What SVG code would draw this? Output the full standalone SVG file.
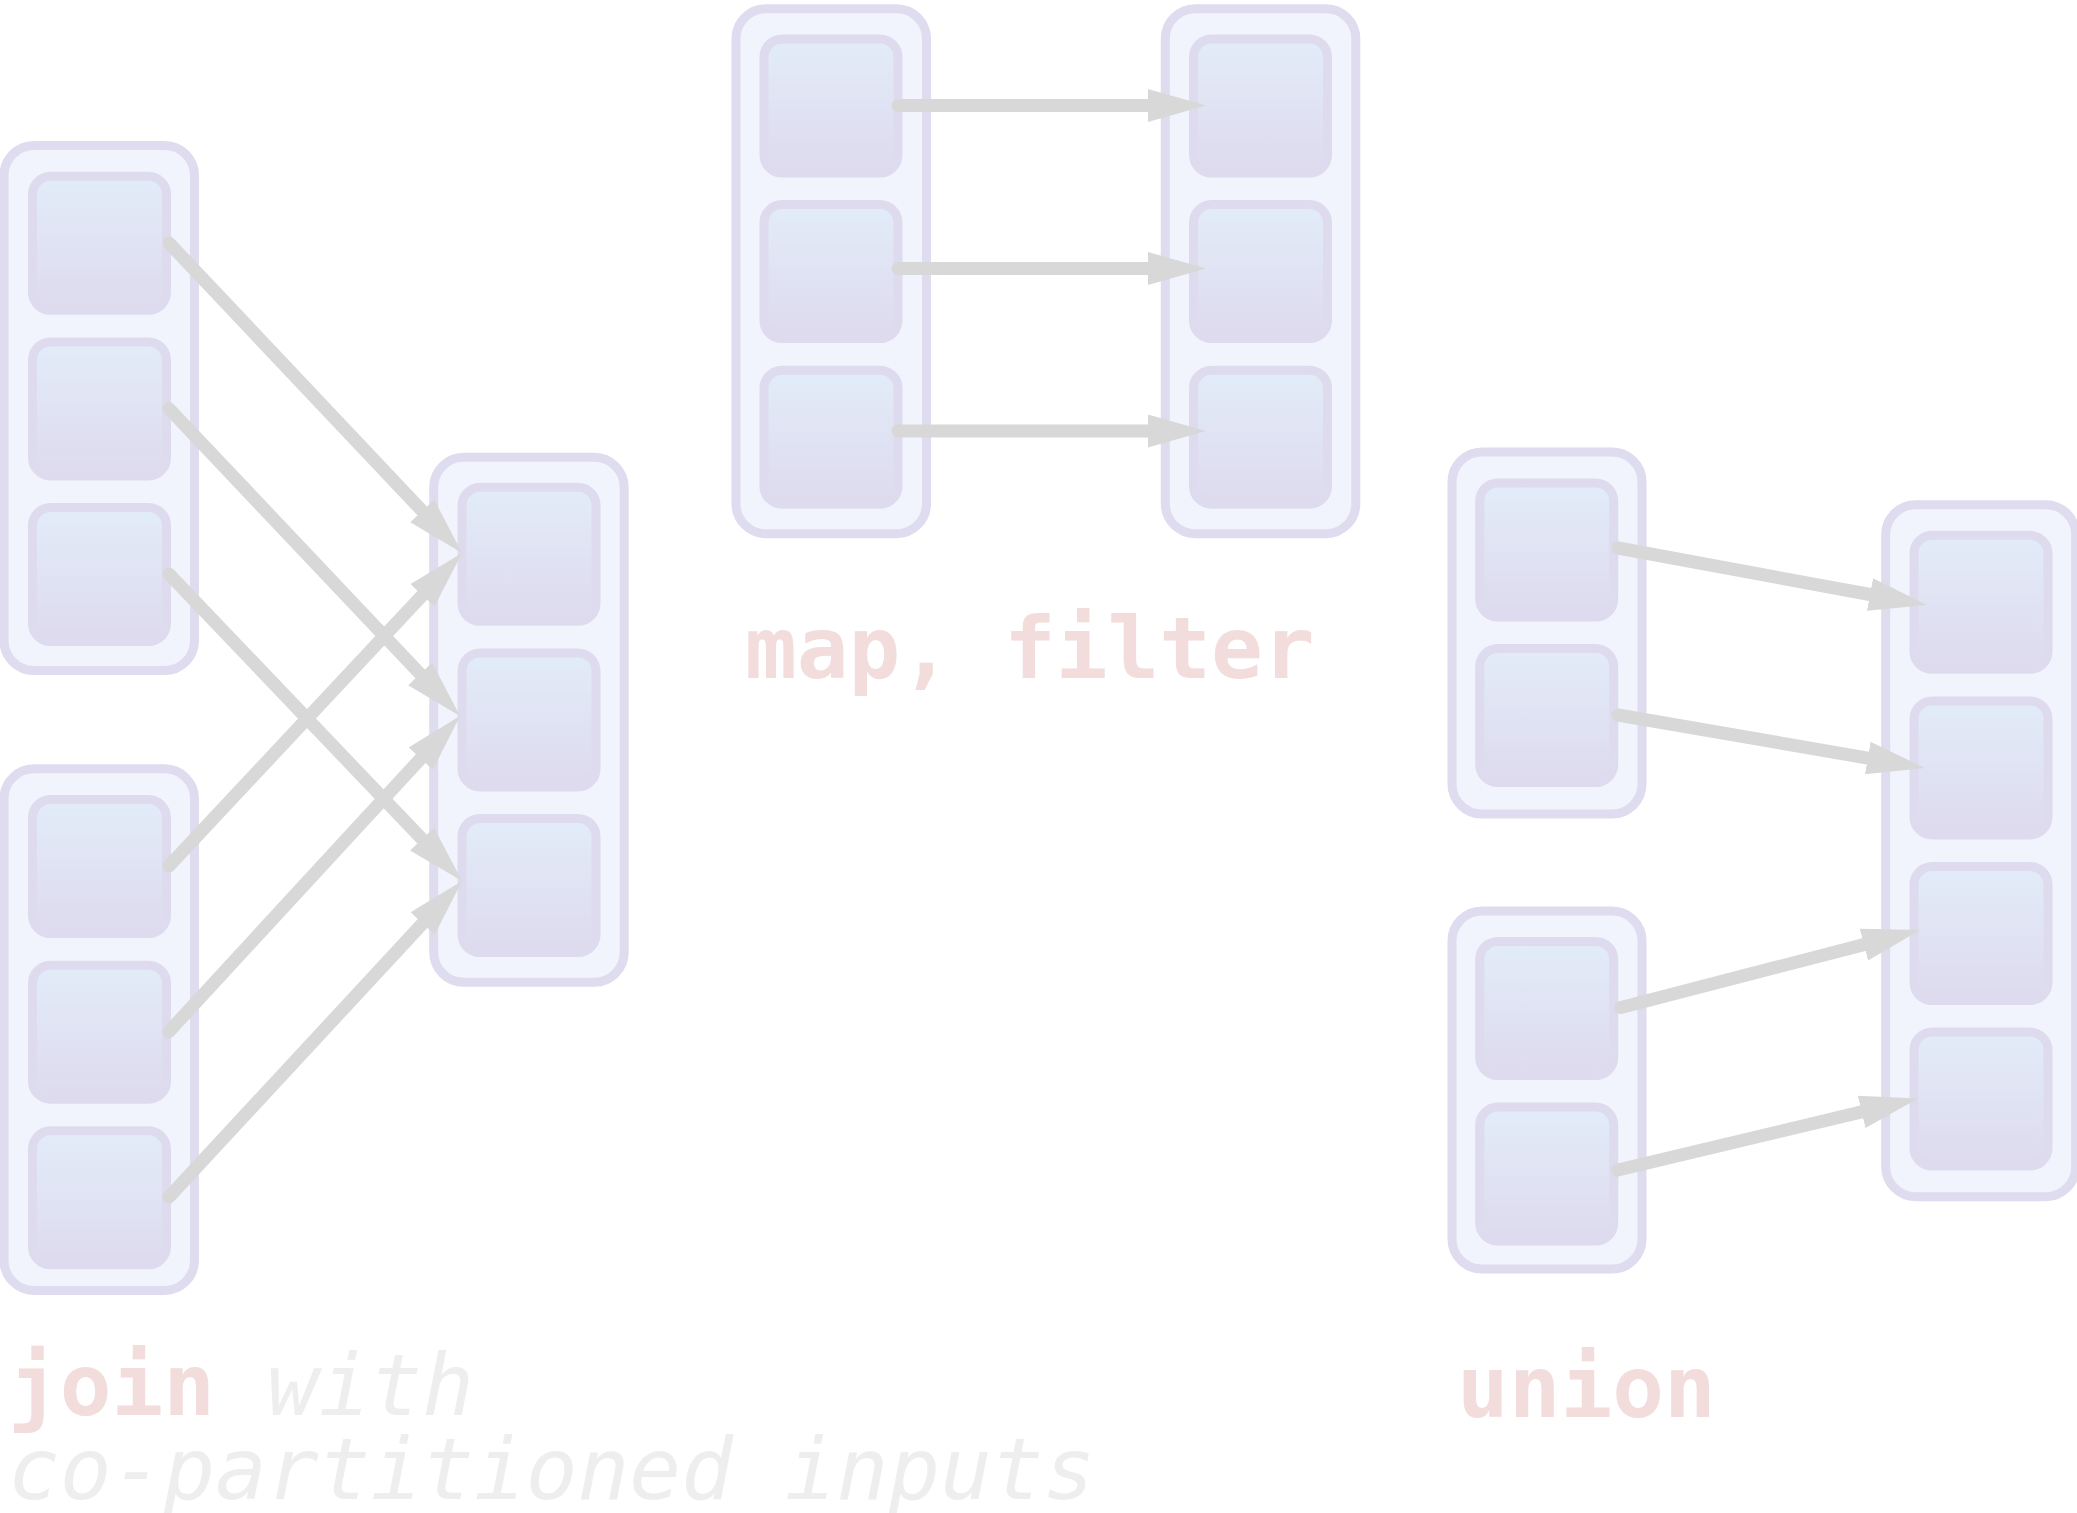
<svg xmlns="http://www.w3.org/2000/svg" width="2077" height="1513" viewBox="0 0 2077 1513">
<style>
.ct{fill:#f1f4fc;stroke:#dedcee;stroke-width:9}
.bx{fill:url(#bg);stroke:#dddbed;stroke-width:9}
.ar{fill:none;stroke:#d8d8d8;stroke-width:13;stroke-linecap:round;marker-end:url(#ah)}
.lbl{font-family:"DejaVu Sans Mono","Liberation Mono",monospace;font-size:86px;font-weight:bold;fill:#f2dcdc}
.sub{font-family:"DejaVu Sans Mono","Liberation Mono",monospace;font-size:86px;font-style:italic;fill:#eeeeee}
</style>
<defs>
<linearGradient id="bg" x1="0" y1="0" x2="0" y2="1">
<stop offset="0" stop-color="#e2ecf8"/>
<stop offset="1" stop-color="#dedaee"/>
</linearGradient>
<marker id="ah" markerUnits="userSpaceOnUse" markerWidth="58" markerHeight="33" refX="0" refY="16.5" orient="auto" viewBox="0 0 58 33">
<path d="M0,0 L58,16.5 L0,33 Z" fill="#d8d8d8"/>
</marker>
</defs>

<g id="join-input-a">
<rect class="ct" x="4" y="145.5" width="190.5" height="525" rx="30"/>
<rect class="bx" x="32.5" y="176.3" width="134" height="134" rx="18"/>
<rect class="bx" x="32.5" y="341.9" width="134" height="134" rx="18"/>
<rect class="bx" x="32.5" y="507.5" width="134" height="134" rx="18"/>
</g>
<g id="join-input-b">
<rect class="ct" x="4" y="768.8" width="190.5" height="521.6" rx="30"/>
<rect class="bx" x="32.5" y="799.6" width="134" height="134" rx="18"/>
<rect class="bx" x="32.5" y="965.2" width="134" height="134" rx="18"/>
<rect class="bx" x="32.5" y="1130.8" width="134" height="134" rx="18"/>
</g>
<g id="join-output">
<rect class="ct" x="433.7" y="457.3" width="190.5" height="525" rx="30"/>
<rect class="bx" x="462" y="487.3" width="134" height="134" rx="18"/>
<rect class="bx" x="462" y="652.9" width="134" height="134" rx="18"/>
<rect class="bx" x="462" y="818.5" width="134" height="134" rx="18"/>
</g>
<g id="map-input">
<rect class="ct" x="736" y="8.7" width="190.5" height="525" rx="30"/>
<rect class="bx" x="764" y="39" width="134" height="134" rx="18"/>
<rect class="bx" x="764" y="204.6" width="134" height="134" rx="18"/>
<rect class="bx" x="764" y="370.2" width="134" height="134" rx="18"/>
</g>
<g id="map-output">
<rect class="ct" x="1165.3" y="8.7" width="190.5" height="525" rx="30"/>
<rect class="bx" x="1193.5" y="39" width="134" height="134" rx="18"/>
<rect class="bx" x="1193.5" y="204.6" width="134" height="134" rx="18"/>
<rect class="bx" x="1193.5" y="370.2" width="134" height="134" rx="18"/>
</g>
<g id="union-input-a">
<rect class="ct" x="1452" y="452" width="190" height="362" rx="30"/>
<rect class="bx" x="1479.7" y="483" width="134" height="134" rx="18"/>
<rect class="bx" x="1479.7" y="648.6" width="134" height="134" rx="18"/>
</g>
<g id="union-input-b">
<rect class="ct" x="1452" y="911" width="190" height="358" rx="30"/>
<rect class="bx" x="1479.7" y="941.5" width="134" height="134" rx="18"/>
<rect class="bx" x="1479.7" y="1107.1" width="134" height="134" rx="18"/>
</g>
<g id="union-output">
<rect class="ct" x="1885.7" y="504.7" width="190" height="692" rx="30"/>
<rect class="bx" x="1914" y="535.3" width="134" height="134" rx="18"/>
<rect class="bx" x="1914" y="700.9" width="134" height="134" rx="18"/>
<rect class="bx" x="1914" y="866.5" width="134" height="134" rx="18"/>
<rect class="bx" x="1914" y="1032.1" width="134" height="134" rx="18"/>
</g>

<g id="connectors">
<path class="ar" d="M169,243 L422.2,510.9"/>
<path class="ar" d="M169,408.6 L420.1,673.9"/>
<path class="ar" d="M169,574 L422,839"/>
<path class="ar" d="M169,866 L422.4,595.3"/>
<path class="ar" d="M169,1031.6 L420.7,758.6"/>
<path class="ar" d="M169,1197 L422.6,923.5"/>
<path class="ar" d="M898,105.5 L1148,105.5"/>
<path class="ar" d="M898,268.5 L1148,268.5"/>
<path class="ar" d="M898,431 L1148,431"/>
<path class="ar" d="M1618,548 L1870,594.5"/>
<path class="ar" d="M1618,715 L1867.8,758.1"/>
<path class="ar" d="M1621,1007.5 L1863.9,944.6"/>
<path class="ar" d="M1618,1170 L1861.6,1111.9"/>
</g>

<g id="labels">
<text class="lbl" x="745" y="678">map, filter</text>
<text class="lbl" x="1457" y="1417">union</text>
<text x="8" y="1415"><tspan class="lbl">join</tspan><tspan class="sub"> with</tspan></text>
<text class="sub" x="8" y="1499">co-partitioned inputs</text>
</g>
</svg>
